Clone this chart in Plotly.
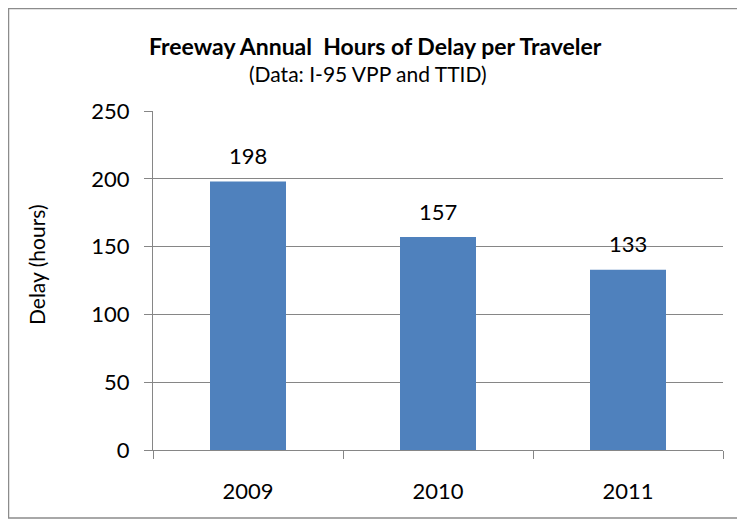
import plotly.graph_objects as go

years = ["2009", "2010", "2011"]
delay_hours = [198, 157, 133]

FONT = "Lato, Carlito, Calibri, sans-serif"
GRID = "#868686"
BAR = "#4F81BD"

# the page puts the figure 8px in from the top-left corner,
# so the figure is 737x515 and every pixel position below is page - 8
W, H = 737, 515
L, R, T, B = 145, 22, 103, 73
PW = W - L - R
PH = H - T - B


def px(x):
    return (x - L) / PW


def py(y):
    return (H - B - y) / PH


xs = list(range(len(years)))

fig = go.Figure()
fig.add_trace(
    go.Bar(
        x=xs,
        y=delay_hours,
        width=0.4,
        marker=dict(color=BAR, line=dict(width=0)),
        hoverinfo="skip",
    )
)

# value labels above the bars
for x, v in zip(xs, delay_hours):
    fig.add_annotation(
        x=x, y=v, text=str(v), showarrow=False,
        yanchor="middle", yshift=26,
        font=dict(family=FONT, size=22, color="black"),
    )

fig.update_xaxes(
    range=[-0.5, 2.5],
    tickvals=xs,
    ticktext=years,
    ticks="",
    showgrid=False,
    showline=True,
    linecolor=GRID,
    linewidth=1,
    zeroline=False,
    ticklabelstandoff=22,
    tickfont=dict(family=FONT, size=22, color="black"),
    minor=dict(tick0=0.5, dtick=1, ticks="outside", ticklen=8,
               tickcolor=GRID, showgrid=False),
)
fig.update_yaxes(
    range=[0, 250],
    dtick=50,
    ticks="outside",
    ticklen=8,
    tickcolor=GRID,
    showgrid=True,
    gridcolor=GRID,
    gridwidth=1,
    showline=True,
    linecolor=GRID,
    linewidth=1,
    zeroline=False,
    ticklabelstandoff=10,
    tickfont=dict(family=FONT, size=22, color="black"),
)

# outer chart frame
fig.add_shape(
    type="rect", xref="paper", yref="paper",
    x0=px(0.5), x1=px(732), y0=py(510), y1=py(0.5),
    line=dict(color="#8c8c8c", width=1.5),
    fillcolor="rgba(0,0,0,0)",
    layer="below",
)

fig.add_annotation(
    text="<b>Freeway Annual  Hours of Delay per Traveler</b>",
    xref="paper", yref="paper", x=px(367), y=py(38),
    showarrow=False, xanchor="center", yanchor="middle",
    font=dict(family=FONT, size=23, color="black"),
)
fig.add_annotation(
    text="(Data: I-95 VPP and TTID)",
    xref="paper", yref="paper", x=px(360), y=py(66),
    showarrow=False, xanchor="center", yanchor="middle",
    font=dict(family=FONT, size=21, color="black"),
)
fig.add_annotation(
    text="Delay (hours)",
    xref="paper", yref="paper", x=px(28), y=py(257),
    showarrow=False, xanchor="center", yanchor="middle",
    textangle=-90,
    font=dict(family=FONT, size=21, color="black"),
)

fig.update_layout(
    width=W,
    height=H,
    margin=dict(l=L, r=R, t=T, b=B),
    paper_bgcolor="white",
    plot_bgcolor="white",
    showlegend=False,
    font=dict(family=FONT),
)

fig.write_html("out.html")
